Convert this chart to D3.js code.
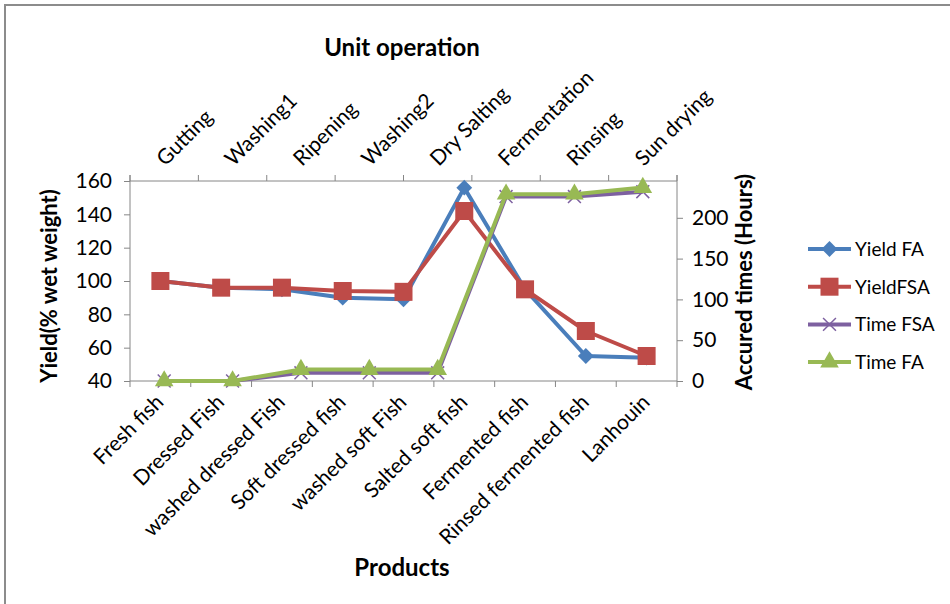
<!DOCTYPE html>
<html>
<head>
<meta charset="utf-8">
<script src="https://cdn.jsdelivr.net/npm/d3@7/dist/d3.min.js"></script>
<style>
  html, body { margin: 0; padding: 0; background: #fff; }
  svg { display: block; }
  text { font-family: Lato, "Open Sans", sans-serif; fill: #000; }
</style>
</head>
<body>
<svg id="chart" width="950" height="604"></svg>
<script>
// Products along the lower axis, unit operations along the upper axis
const products = ["Fresh fish", "Dressed Fish", "washed dressed Fish", "Soft dressed fish",
  "washed soft Fish", "Salted soft fish", "Fermented fish", "Rinsed fermented fish", "Lanhouin"];
const operations = ["Gutting", "Washing1", "Ripening", "Washing2", "Dry Salting",
  "Fermentation", "Rinsing", "Sun drying"];

// Yield (% wet weight) per product
const yieldFA  = [100, 96, 95, 90, 89, 156, 95, 55, 54];
const yieldFSA = [100, 96, 96, 94, 93.5, 142, 95, 70, 55];

// Accumulated time (hours) per unit operation
const timeFSA = [0, 0, 10, 10, 10, 226, 226, 232];
const timeFA  = [0, 0, 14, 14, 14, 229, 229, 237];

const yieldTicks = [40, 60, 80, 100, 120, 140, 160];
const timeTicks = [0, 50, 100, 150, 200];

const svg = d3.select("#chart");
const plot = { left: 130, right: 677, top: 181, bottom: 381 };
const axisColor = "#868686";

// outer frame
svg.append("path")
  .attr("d", "M5,610 L5,5 L960,5")
  .attr("fill", "none").attr("stroke", "#8c8c8c").attr("stroke-width", 2);

const xBottom = d3.scaleBand().domain(products).range([plot.left, plot.right]);
const xTop = d3.scaleBand().domain(operations).range([plot.left, plot.right]);
const yLeft = d3.scaleLinear().domain([40, 160]).range([plot.bottom, plot.top]);
const yRight = d3.scaleLinear().domain([0, 250]).range([plot.bottom, plot.top - 4]);

const cx = (scale, d) => scale(d) + scale.bandwidth() / 2;

// left axis
const gL = svg.append("g").attr("transform", `translate(${plot.left},0)`)
  .call(d3.axisLeft(yLeft).tickValues(yieldTicks).tickSize(6).tickSizeOuter(0).tickPadding(12));
// right axis
const gR = svg.append("g").attr("transform", `translate(${plot.right},0)`)
  .call(d3.axisRight(yRight).tickValues(timeTicks).tickSize(6).tickSizeOuter(0).tickPadding(9));
[gL, gR].forEach(g => {
  g.select(".domain").remove();
  g.selectAll(".tick line").attr("stroke", axisColor);
  g.selectAll(".tick text").style("font-size", "21px").style("font-family", "Lato, sans-serif").attr("fill", "#222");
});
svg.append("line").attr("x1", plot.left).attr("x2", plot.left)
  .attr("y1", plot.top - 6).attr("y2", plot.bottom).attr("stroke", axisColor);
svg.append("line").attr("x1", plot.right).attr("x2", plot.right)
  .attr("y1", plot.top - 6).attr("y2", plot.bottom).attr("stroke", axisColor);

// bottom category axis: line, ticks between categories, rotated labels
svg.append("line").attr("x1", plot.left).attr("x2", plot.right)
  .attr("y1", plot.bottom).attr("y2", plot.bottom).attr("stroke", axisColor);
const bottomEdges = products.map(d => xBottom(d)).concat([xBottom.range()[1]]);
svg.selectAll(".btick").data(bottomEdges).join("line")
  .attr("x1", d => d).attr("x2", d => d)
  .attr("y1", plot.bottom).attr("y2", plot.bottom + 6).attr("stroke", axisColor);
svg.selectAll(".blab").data(products).join("text")
  .attr("transform", d => `translate(${cx(xBottom, d) - 6},${plot.bottom + 12}) rotate(-45)`)
  .attr("text-anchor", "end").attr("dy", "0.7em")
  .style("font-size", "21px").attr("fill", "#222")
  .text(d => d);

// top category axis
svg.append("line").attr("x1", plot.left).attr("x2", plot.right)
  .attr("y1", plot.top).attr("y2", plot.top).attr("stroke", axisColor);
const topEdges = operations.map(d => xTop(d)).concat([xTop.range()[1]]);
svg.selectAll(".ttick").data(topEdges).join("line")
  .attr("x1", d => d).attr("x2", d => d)
  .attr("y1", plot.top).attr("y2", plot.top - 6).attr("stroke", axisColor);
svg.selectAll(".tlab").data(operations).join("text")
  .attr("transform", d => `translate(${cx(xTop, d) + 1},${plot.top - 14}) rotate(-45)`)
  .attr("text-anchor", "start")
  .style("font-size", "21px").attr("fill", "#222")
  .text(d => d);

// axis titles
svg.append("text").attr("x", 402).attr("y", 56).attr("text-anchor", "middle")
  .style("font-size", "24px").style("font-weight", "bold").text("Unit operation");
svg.append("text").attr("x", 402).attr("y", 576).attr("text-anchor", "middle")
  .style("font-size", "24px").style("font-weight", "bold").text("Products");
svg.append("text").attr("transform", "translate(57,286) rotate(-90)").attr("text-anchor", "middle")
  .style("font-size", "22px").style("font-weight", "bold").text("Yield(% wet weight)");
svg.append("text").attr("transform", "translate(752,282) rotate(-90)").attr("text-anchor", "middle")
  .style("font-size", "22px").style("font-weight", "bold").text("Accured times (Hours)");

// series definitions
const series = [
  { name: "Yield FA", values: yieldFA, cats: products, x: xBottom, y: yLeft, color: "#4A7EBB", marker: "diamond" },
  { name: "YieldFSA", values: yieldFSA, cats: products, x: xBottom, y: yLeft, color: "#BE4B48", marker: "square" },
  { name: "Time FSA", values: timeFSA, cats: operations, x: xTop, y: yRight, color: "#7D60A0", marker: "cross" },
  { name: "Time FA", values: timeFA, cats: operations, x: xTop, y: yRight, color: "#98B954", marker: "triangle" }
];

function drawMarker(g, type, color, x, y) {
  if (type === "diamond") {
    g.append("path").attr("d", d3.symbol(d3.symbolDiamond2, 160)())
      .attr("transform", `translate(${x},${y})`).attr("fill", color);
  } else if (type === "square") {
    g.append("rect").attr("x", x - 9).attr("y", y - 9).attr("width", 18).attr("height", 18)
      .attr("fill", color);
  } else if (type === "triangle") {
    g.append("path").attr("d", d3.symbol(d3.symbolTriangle, 150)())
      .attr("transform", `translate(${x},${y})`).attr("fill", color);
  } else if (type === "cross") {
    g.append("path").attr("d", d3.symbol(d3.symbolTimes, 110)())
      .attr("transform", `translate(${x},${y})`).attr("fill", "none")
      .attr("stroke", color).attr("stroke-width", 1.5);
  }
}

series.forEach(s => {
  const pts = s.values.map((v, i) => [cx(s.x, s.cats[i]), s.y(v)]);
  const g = svg.append("g");
  g.append("path").datum(pts)
    .attr("d", d3.line())
    .attr("fill", "none").attr("stroke", s.color).attr("stroke-width", 4)
    .attr("stroke-linejoin", "round");
  pts.forEach(p => drawMarker(g, s.marker, s.color, p[0], p[1]));
});

// legend
const legend = svg.append("g");
series.forEach((s, i) => {
  const y = 249 + i * 37.7;
  legend.append("line").attr("x1", 808).attr("x2", 851).attr("y1", y).attr("y2", y)
    .attr("stroke", s.color).attr("stroke-width", 4);
  drawMarker(legend, s.marker, s.color, 829.5, y);
  legend.append("text").attr("x", 855).attr("y", y).attr("dy", "0.36em")
    .style("font-size", "19px").attr("fill", "#222").text(s.name);
});
</script>
</body>
</html>
